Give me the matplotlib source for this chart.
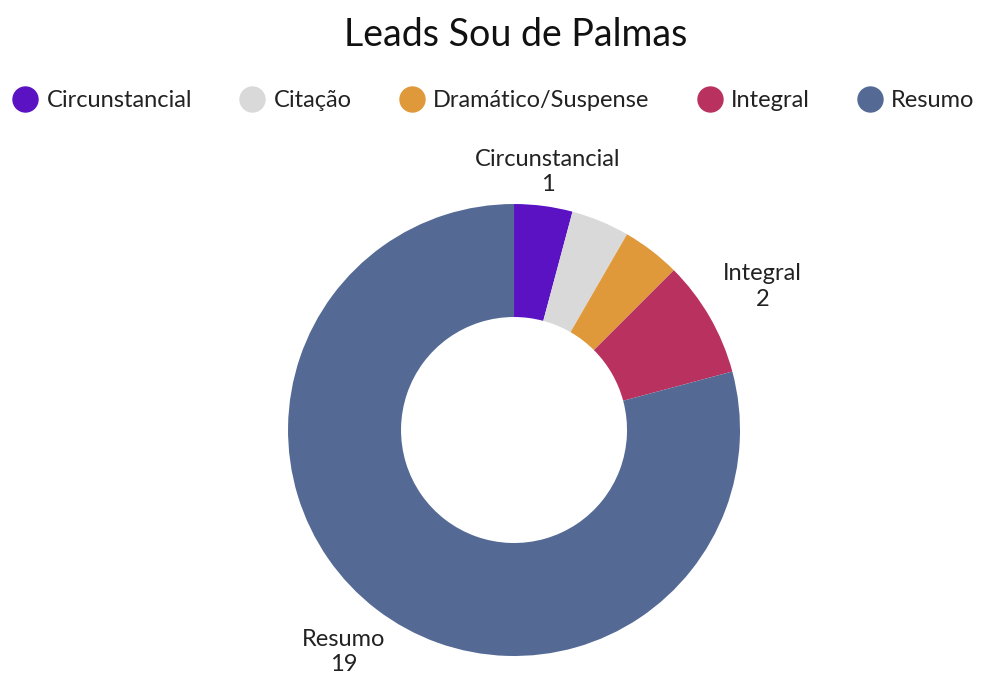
import numpy as np
import matplotlib.pyplot as plt
from matplotlib.lines import Line2D

plt.rcParams['font.family'] = ['Lato', 'DejaVu Sans']

categories = ['Circunstancial', 'Citação', 'Dramático/Suspense', 'Integral', 'Resumo']
values = [1, 1, 1, 2, 19]
colors = ['#5a12c2', '#d9d9d9', '#df993a', '#b9325f', '#546a95']
# only these slices get an outside label in the original, with its distance from centre
label_radius = {'Circunstancial': 1.15, 'Integral': 1.27, 'Resumo': 1.24}

fig = plt.figure(figsize=(10.07, 6.74), dpi=100)
ax = fig.add_axes([0.286, 0.0267, 0.4489, 0.6706])

wedges, _ = ax.pie(values, colors=colors, startangle=90, counterclock=False,
                   radius=1, wedgeprops=dict(width=0.5, linewidth=0))
ax.set_xlim(-1, 1)
ax.set_ylim(-1, 1)
ax.set_aspect('equal')
ax.axis('off')

for w, cat, val in zip(wedges, categories, values):
    if cat not in label_radius:
        continue
    ang = np.deg2rad((w.theta1 + w.theta2) / 2)
    r = label_radius[cat]
    ax.text(r * np.cos(ang), r * np.sin(ang), f'{cat}\n{val}', ha='center', va='center',
            fontsize=17, color='#222222', linespacing=1.25, clip_on=False)

fig.text(0.512, 0.948, 'Leads Sou de Palmas', ha='center', va='center',
         fontsize=27, color='#111111')

handles = [Line2D([], [], marker='o', linestyle='', markersize=18,
                  markerfacecolor=c, markeredgecolor=c) for c in colors]
fig.legend(handles, categories, loc='center', bbox_to_anchor=(0.49, 0.851), ncol=5,
           frameon=False, fontsize=17, handletextpad=0.35, columnspacing=2.0,
           handlelength=1.1, labelcolor='#222222')

fig.savefig('out.png', dpi=100, facecolor='white')
